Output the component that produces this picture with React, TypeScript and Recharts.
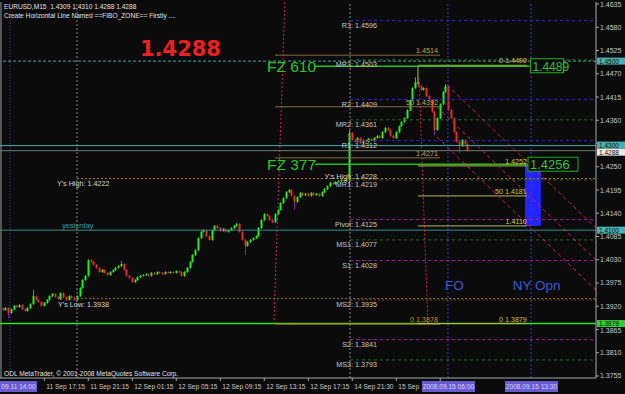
import React from 'react';
import {
  ComposedChart,
  Bar,
  XAxis,
  YAxis,
  ReferenceLine,
  ReferenceArea,
  ReferenceDot,
} from 'recharts';

// EURUSD M15 closes, 11 Sep 13:30 .. 15 Sep 07:45
const closes = [
  1.3911, 1.3916, 1.3904, 1.3913, 1.3921, 1.3918, 1.3923, 1.3913, 1.3909, 1.3916,
  1.3925, 1.3944, 1.3935, 1.3930, 1.3921, 1.3928, 1.3935, 1.3944, 1.3949, 1.3942,
  1.3937, 1.3951, 1.3942, 1.3935, 1.3944, 1.3940, 1.3935, 1.3944, 1.3963, 1.3982,
  1.3992, 1.4029, 1.4025, 1.4018, 1.4011, 1.4001, 1.4006, 1.3999, 1.3994, 1.4001,
  1.4006, 1.4011, 1.4015, 1.4020, 1.4006, 1.3992, 1.3987, 1.3977, 1.3982, 1.3989,
  1.3992, 1.3994, 1.3996, 1.3992, 1.3999, 1.3996, 1.4001, 1.3999, 1.3996, 1.4001,
  1.3999, 1.4001, 1.3999, 1.4003, 1.4001, 1.3992, 1.4001, 1.4011, 1.4025, 1.4041,
  1.4053, 1.4081, 1.4096, 1.4100, 1.4086, 1.4077, 1.4100, 1.4110, 1.4105, 1.4098,
  1.4103, 1.4096, 1.4100, 1.4105, 1.4110, 1.4115, 1.4096, 1.4077, 1.4063, 1.4072,
  1.4077, 1.4081, 1.4086, 1.4105, 1.4124, 1.4138, 1.4134, 1.4124, 1.4119, 1.4138,
  1.4148, 1.4164, 1.4176, 1.4190, 1.4195, 1.4181, 1.4167, 1.4178, 1.4188, 1.4183,
  1.4186, 1.4181, 1.4188, 1.4183, 1.4186, 1.4181, 1.4190, 1.4197, 1.4204, 1.4212,
  1.4209, 1.4214, 1.4216, 1.4219, 1.4216, 1.4219, 1.4330, 1.4313, 1.4309, 1.4318,
  1.4306, 1.4313, 1.4309, 1.4316, 1.4311, 1.4318, 1.4323, 1.4318, 1.4332, 1.4342,
  1.4337, 1.4323, 1.4318, 1.4332, 1.4346, 1.4356, 1.4365, 1.4384, 1.4408, 1.4436,
  1.4450, 1.4441, 1.4432, 1.4436, 1.4417, 1.4408, 1.4380, 1.4337, 1.4365, 1.4398,
  1.4427, 1.4441, 1.4384, 1.4365, 1.4332, 1.4309, 1.4299, 1.4313, 1.4304, 1.4288,
];
const firstOpen = 1.3915;
// wicks that stick out more than the usual couple of pips
const highs: Record<number, number> = { 11: 1.3958, 43: 1.4027, 126: 1.4337, 150: 1.4462, 161: 1.4446 };
const lows: Record<number, number> = { 2: 1.3892, 88: 1.4041, 106: 1.4148, 126: 1.4207, 157: 1.4325, 166: 1.4283 };

const timeTicks = [15, 31, 47, 63, 79, 95, 111, 127, 143, 159];
// the last two are mostly hidden under the highlighted date
const timeLabels = [
  '11 Sep 17:15', '11 Sep 21:15', '12 Sep 01:15', '12 Sep 05:15', '12 Sep 09:15',
  '12 Sep 13:15', '12 Sep 17:15', '14 Sep 21:30', '15 Sep', '',
];
const priceTicks = [
  1.4635, 1.458, 1.4525, 1.447, 1.4415, 1.436, 1.4305, 1.425, 1.4195, 1.414,
  1.4085, 1.403, 1.3975, 1.392, 1.3865, 1.381, 1.3755,
];
const hiddenPriceTicks = [1.4305];

// daily pivots, drawn from the session start
const pivotNames = ['R3', 'MR3', 'R2', 'MR2', 'R1', 'MR1', 'Pivot', 'MS1', 'S1', 'MS2', 'S2', 'MS3'];
const pivotValues = [1.4596, 1.4503, 1.4409, 1.4361, 1.4312, 1.4219, 1.4125, 1.4077, 1.4028, 1.3935, 1.3841, 1.3793];

// the two fibo retracements
const fibA = [1.4514, 1.4392, 1.4271, 1.3878];
const fibALabels = ['1.4514', '50   1.4392', '1.4271', '0   1.3878'];
const fibB = [1.4490, 1.4252, 1.4181, 1.4110, 1.3879];
const fibBLabels = ['0   1.4490', '1.4252', '50   1.4181', '1.4110', '0   1.3879'];

const X0 = -1.0909;
const X1 = 215.636;
const Y0 = 1.37502;
const Y1 = 1.46398;

const candles = closes.map((c, i) => {
  const o = i === 0 ? firstOpen : closes[i - 1];
  const hi = highs[i] ?? Math.max(o, c) + 0.0002;
  const lo = lows[i] ?? Math.min(o, c) - 0.0002;
  return { i, open: o, close: c, high: hi, low: lo, range: [lo, hi] };
});

const SMALL = '"Liberation Sans", Arial, sans-serif';

const Candle = (props: any) => {
  const { x, y, width, height, payload } = props;
  if (!payload) return null;
  const { open, close, high, low } = payload;
  const top = Math.min(y, y + height);
  const h = Math.abs(height);
  const ppu = h / (high - low);
  const cx = Math.round(x + width / 2) + 0.5;
  const up = close >= open;
  const bTop = top + (high - Math.max(open, close)) * ppu;
  const bH = Math.max(1, Math.abs(open - close) * ppu);
  return (
    <g>
      <line x1={cx} x2={cx} y1={top} y2={top + h} stroke={up ? '#10d010' : '#8a1f9a'} strokeWidth={1} />
      <rect x={cx - 1} y={bTop} width={2} height={bH} fill={up ? '#22ee22' : '#ee2a1a'} />
    </g>
  );
};

const NoTick = () => <g />;

const note = (
  key: string,
  x: number,
  y: number,
  text: string,
  color: string,
  size: number,
  anchor: 'start' | 'end' | 'middle' = 'start',
  dy = 0,
  family = SMALL,
  weight: any = 'normal',
  dx = 0
) => (
  <ReferenceDot
    key={key}
    x={x}
    y={y}
    r={0}
    ifOverflow="visible"
    shape={(p: any) => (
      <text x={p.cx + dx} y={p.cy + dy} fill={color} fontSize={size} fontFamily={family} fontWeight={weight} textAnchor={anchor}>
        {text}
      </text>
    )}
  />
);

const hSeg = (key: string, p: number, from: number, to: number, color: string, dash?: string, w = 1) => (
  <ReferenceLine
    key={key}
    segment={[{ x: from, y: p }, { x: to, y: p }]}
    stroke={color}
    strokeDasharray={dash}
    strokeWidth={w}
    ifOverflow="visible"
  />
);

const seg = (key: string, x1: number, y1: number, x2: number, y2: number, color: string, dash?: string) => (
  <ReferenceLine
    key={key}
    segment={[{ x: x1, y: y1 }, { x: x2, y: y2 }]}
    stroke={color}
    strokeDasharray={dash}
    ifOverflow="visible"
  />
);

// price tag on the right axis
const axisTag = (key: string, p: number, bg: string, shift = 0) => (
  <ReferenceDot
    key={key}
    x={X1}
    y={p}
    r={0}
    ifOverflow="visible"
    shape={(q: any) => (
      <g>
        <rect x={q.cx + 1} y={q.cy - 3.5 + shift} width={28} height={7} fill={bg} />
        <text x={q.cx + 3} y={q.cy + 2.5 + shift} fill="#101010" fontSize={6.5} fontFamily={SMALL}>
          {p.toFixed(4)}
        </text>
      </g>
    )}
  />
);

// highlighted date on the time axis
const timeTag = (key: string, i: number, text: string, left: number, w: number) => (
  <ReferenceDot
    key={key}
    x={i}
    y={Y0}
    r={0}
    ifOverflow="visible"
    shape={(q: any) => (
      <g>
        <rect x={q.cx + left} y={q.cy + 3} width={w} height={11} fill="#6a5ad0" />
        <text x={q.cx + left + w / 2} y={q.cy + 11} fill="#d8d8ff" fontSize={6.6} fontFamily={SMALL} textAnchor="middle">
          {text}
        </text>
      </g>
    )}
  />
);

// green framed price box of a fibo zone
const zoneBox = (key: string, i: number, p: number, w: number, size: number) => (
  <ReferenceDot
    key={key}
    x={i}
    y={p}
    r={0}
    ifOverflow="visible"
    shape={(q: any) => (
      <g>
        <rect x={q.cx} y={q.cy - 7} width={w} height={14} fill="#0b0b0b" stroke="#22b022" />
        <text x={q.cx + 2} y={q.cy + 5} fill="#30c030" fontSize={size} fontFamily={SMALL}>
          {p.toFixed(4)}
        </text>
      </g>
    )}
  />
);

const pivotColor = (n: string) =>
  n.startsWith('R') ? '#2c2cb8' : n.startsWith('S') || n === 'Pivot' ? '#a020a0' : n === 'MS2' ? '#6e5a16' : '#2c6a2c';

export default function App() {
  return (
    <div style={{ position: 'fixed', left: 0, top: 0, width: 625, height: 394, background: '#0b0b0b' }}>
      <ComposedChart
        width={625}
        height={394}
        data={candles}
        margin={{ top: 2, right: 0, left: 0, bottom: 0 }}
        style={{ background: '#0b0b0b' }}
      >
        <XAxis
          type="number"
          dataKey="i"
          domain={[X0, X1]}
          allowDataOverflow
          ticks={timeTicks}
          interval={0}
          tick={<NoTick />}
          height={16}
          tickSize={3}
          axisLine={{ stroke: '#a8a8a8' }}
          tickLine={{ stroke: '#a8a8a8' }}
        />
        <YAxis
          orientation="right"
          type="number"
          domain={[Y0, Y1]}
          allowDataOverflow
          ticks={priceTicks}
          interval={0}
          tick={<NoTick />}
          width={29}
          tickSize={3}
          axisLine={{ stroke: '#a8a8a8' }}
          tickLine={{ stroke: '#a8a8a8' }}
        />

        {seg('border', -0.73, Y0, -0.73, Y1, '#9a9a9a')}

        {/* period separators and session lines */}
        <ReferenceLine x={2.545} stroke="#3c3cc8" strokeDasharray="1 2" />
        <ReferenceLine x={26.9} stroke="#8a8a8a" strokeDasharray="2 2" />
        <ReferenceLine x={126.2} stroke="#8a8a8a" strokeDasharray="2 2" />
        <ReferenceLine x={161.8} stroke="#3c3cc8" strokeDasharray="2 2" />
        <ReferenceLine x={192} stroke="#3c3cc8" strokeDasharray="2 2" />
        {seg('tA', 98.5, 1.3878, 102.5, Y1, '#d02060', '2 2')}
        {seg('tB', 154.5, 1.3879, 151.3, 1.446, '#d02060', '2 2')}

        {/* full width levels */}
        <ReferenceLine y={1.45} stroke="#4aa8a8" strokeDasharray="3 2" />
        <ReferenceLine y={1.43} stroke="#3ab0b0" />
        <ReferenceLine y={1.4288} stroke="#777777" />
        <ReferenceLine y={1.41} stroke="#2f8f8f" />
        {hSeg('yh', 1.4222, 26.9, X1, '#c07820', '2 2')}
        {hSeg('yl', 1.3938, 26.9, X1, '#a06a1a', '2 2')}

        {pivotNames.map((n, k) => hSeg('pv' + n, pivotValues[k], 126.2, X1, pivotColor(n), n === 'MS2' ? '2 2' : '3 3'))}

        <ReferenceLine y={1.3879} stroke="#33dd22" strokeWidth={1.5} />

        {fibA.map((p, k) => hSeg('fa' + k, p, 98.9, 158.9, k === 3 ? '#c08a30' : '#8a6a3a'))}
        {fibB.map((p, k) => hSeg('fb' + k, p, 150.9, 190.5, '#b8b848'))}
        {seg('fbv', 150.9, 1.449, 150.9, 1.4446, '#b8b848')}

        {hSeg('fz610', 1.4488, 113.5, 191.5, '#22c022', undefined, 1.5)}
        {hSeg('fz377', 1.4256, 113.5, 190.5, '#22c022', undefined, 1.5)}

        {/* down channel */}
        {seg('chA', 161.5, 1.4443, X1, 1.4105, '#c02060', '4 3')}
        {seg('chB', 157.8, 1.4391, X1, 1.4029, '#c02060', '4 3')}
        {seg('chC', 157.8, 1.432, X1, 1.3958, '#c02060', '4 3')}

        <ReferenceArea x1={189.8} x2={195.6} y1={1.411} y2={1.4256} fill="#2424ff" fillOpacity={1} stroke="none" />

        <Bar dataKey="range" barSize={2} shape={<Candle />} isAnimationActive={false} />

        {pivotNames.map((n, k) => note('pl' + n, 136, pivotValues[k], `${n}: ${pivotValues[k].toFixed(4)}`, '#c8c8c8', 7.2, 'end', 7.5))}
        {note('yhm', 136, 1.4228, "Y's High: 1.4228", '#c8c8c8', 7.2, 'end', 2.5)}
        {note('yhl', 19.6, 1.4222, "Y's High: 1.4222", '#d8d8d8', 7.2, 'start', 7)}
        {note('yd', 21.5, 1.41, 'yesterday', '#3aa0a0', 7.2, 'start', -2)}
        {note('yll', 20, 1.3938, "Y's Low: 1.3938", '#d8d8d8', 7.2, 'start', 8)}

        {fibA.map((p, k) => note('fal' + k, 158.2, p, fibALabels[k], k === 3 ? '#d09030' : '#c8a050', 7.2, 'end', -2))}
        {fibB.map((p, k) => note('fbl' + k, 190.5, p, fibBLabels[k], '#c8c850', 7.2, 'end', -2))}

        {note('big', 49.8, 1.4512, '1.4288', '#ee2020', 21, 'start', 0, '"DejaVu Sans", sans-serif', 'bold')}
        {note('fz1', 96, 1.4488, 'FZ 610', '#22cc22', 15.5, 'start', 6)}
        {note('fz2', 96, 1.4256, 'FZ 377', '#22cc22', 15.5, 'start', 6)}
        {note('fo', 160.7, 1.3958, 'FO', '#3c5ad8', 13.5, 'start', 0)}
        {note('ny', 185.4, 1.3958, 'NY Opn', '#3c5ad8', 13.5, 'start', 0)}

        {zoneBox('zb1', 191.8, 1.4489, 33, 12)}
        {zoneBox('zb2', 190.9, 1.4256, 50, 13)}

        {/* axis texts, then the highlighted tags on top of them */}
        {priceTicks
          .filter((p) => !hiddenPriceTicks.includes(p))
          .map((p) => note('pt' + p, X1, p, p.toFixed(4), '#c8c8c8', 7, 'start', p === 1.3865 ? 3.5 : 2.5, SMALL, 'normal', 4))}
        {timeTicks.map((t, k) => note('tt' + t, t, Y0, timeLabels[k], '#c8c8c8', 6.6, 'start', 11, SMALL, 'normal', 2))}

        {axisTag('t1', 1.45, '#48b0b0')}
        {axisTag('t2', 1.43, '#48b0b0', -0.5)}
        {axisTag('t3', 1.4288, '#e8e8e8', 1.5)}
        {axisTag('t4', 1.41, '#48b0b0')}
        {axisTag('t5', 1.3879, '#33cc33')}

        {timeTag('d1', X0, '09.11 14:00', 0, 37)}
        {timeTag('d2', 161.8, '2008.09.15 06:00', -26, 53)}
        {timeTag('d3', 192, '2008.09.15 13:30', -26, 53)}
      </ComposedChart>

      <div style={{ position: 'absolute', left: 4, top: 2, color: '#e0e0e0', fontFamily: SMALL, fontSize: 6.6, lineHeight: '9px', whiteSpace: 'pre' }}>
        {'EURUSD,M15  1.4309 1.4310 1.4288 1.4288\nCreate Horizontal Line Named ==FIBO_ZONE== Firstly ....'}
      </div>
      <div style={{ position: 'absolute', left: 4, top: 370, color: '#e0e0e0', fontFamily: SMALL, fontSize: 6.6, whiteSpace: 'pre' }}>
        ODL MetaTrader, © 2001-2008 MetaQuotes Software Corp.
      </div>
    </div>
  );
}
